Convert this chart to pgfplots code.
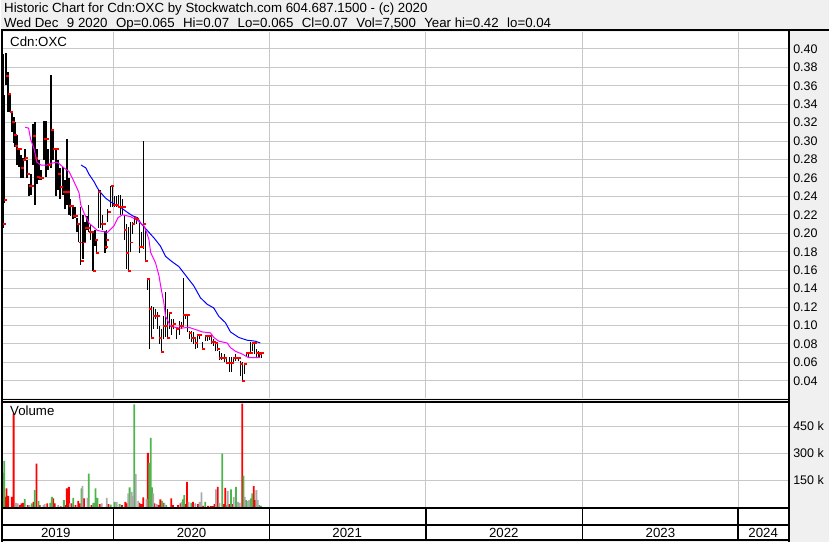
\documentclass[border=0pt]{standalone}
\usepackage{fontspec}
\setmainfont{Liberation Sans}
\usepackage{pgfplots}
\usepackage{pgfplotstable}
\pgfplotsset{compat=1.18}
\definecolor{bg}{RGB}{240,240,240}
\definecolor{gridc}{RGB}{200,200,200}
\definecolor{vgreen}{RGB}{76,182,76}
\definecolor{vgray}{RGB}{170,170,170}
\definecolor{mared}{RGB}{255,0,0}
\definecolor{mamag}{RGB}{255,0,255}

\pgfplotstableread{
x hi lo cl
2019.291 0.394 0.206 0.210
2019.297 0.350 0.233 0.236
2019.310 0.396 0.361 0.371
2019.323 0.375 0.332 0.351
2019.336 0.352 0.331 0.331
2019.348 0.332 0.310 0.321
2019.361 0.326 0.298 0.307
2019.367 0.321 0.294 0.295
2019.380 0.307 0.274 0.291
2019.393 0.291 0.272 0.291
2019.406 0.285 0.260 0.271
2019.419 0.282 0.260 0.280
2019.431 0.291 0.278 0.282
2019.444 0.280 0.260 0.264
2019.457 0.253 0.240 0.251
2019.470 0.264 0.242 0.251
2019.482 0.318 0.274 0.305
2019.495 0.321 0.231 0.282
2019.508 0.291 0.253 0.261
2019.521 0.280 0.258 0.260
2019.534 0.269 0.258 0.260
2019.553 0.322 0.280 0.302
2019.566 0.322 0.261 0.302
2019.578 0.291 0.269 0.274
2019.598 0.372 0.271 0.312
2019.610 0.312 0.280 0.291
2019.629 0.291 0.240 0.291
2019.642 0.280 0.247 0.264
2019.655 0.271 0.237 0.250
2019.674 0.272 0.242 0.245
2019.687 0.258 0.226 0.245
2019.700 0.302 0.231 0.245
2019.713 0.260 0.220 0.230
2019.725 0.237 0.219 0.230
2019.738 0.231 0.215 0.219
2019.751 0.228 0.217 0.219
2019.764 0.217 0.201 0.210
2019.776 0.210 0.190 0.190
2019.789 0.229 0.166 0.170
2019.802 0.220 0.172 0.190
2019.815 0.212 0.190 0.206
2019.828 0.219 0.204 0.206
2019.840 0.231 0.201 0.201
2019.853 0.210 0.193 0.201
2019.866 0.201 0.159 0.159
2019.879 0.204 0.186 0.193
2019.891 0.193 0.179 0.179
2019.904 0.247 0.206 0.245
2019.917 0.247 0.206 0.210
2019.930 0.220 0.204 0.210
2019.943 0.202 0.179 0.185
2019.955 0.204 0.183 0.193
2019.962 0.226 0.212 0.223
2019.981 0.251 0.228 0.251
2019.994 0.251 0.229 0.231
2020.006 0.240 0.229 0.231
2020.019 0.240 0.229 0.231
2020.032 0.242 0.228 0.228
2020.045 0.242 0.220 0.229
2020.058 0.237 0.220 0.229
2020.070 0.220 0.193 0.204
2020.083 0.210 0.161 0.179
2020.096 0.207 0.159 0.159
2020.109 0.212 0.180 0.190
2020.121 0.212 0.199 0.210
2020.134 0.217 0.210 0.217
2020.147 0.217 0.210 0.215
2020.166 0.212 0.179 0.185
2020.179 0.201 0.185 0.185
2020.192 0.300 0.183 0.210
2020.205 0.206 0.170 0.170
2020.217 0.150 0.139 0.150
2020.230 0.150 0.074 0.118
2020.243 0.121 0.085 0.086
2020.256 0.120 0.096 0.110
2020.268 0.118 0.107 0.110
2020.281 0.115 0.096 0.110
2020.294 0.099 0.080 0.086
2020.307 0.096 0.071 0.071
2020.320 0.110 0.085 0.099
2020.332 0.136 0.088 0.099
2020.345 0.118 0.085 0.086
2020.358 0.114 0.096 0.114
2020.371 0.107 0.090 0.099
2020.383 0.107 0.096 0.102
2020.403 0.098 0.085 0.096
2020.422 0.105 0.090 0.099
2020.435 0.104 0.096 0.099
2020.447 0.152 0.099 0.111
2020.460 0.111 0.107 0.111
2020.473 0.111 0.093 0.111
2020.486 0.094 0.085 0.092
2020.498 0.094 0.082 0.086
2020.511 0.093 0.080 0.086
2020.524 0.088 0.074 0.081
2020.537 0.090 0.076 0.090
2020.550 0.090 0.085 0.090
2020.569 0.082 0.074 0.074
2020.588 0.090 0.083 0.089
2020.601 0.090 0.083 0.089
2020.614 0.089 0.084 0.089
2020.626 0.089 0.080 0.082
2020.639 0.085 0.078 0.082
2020.652 0.082 0.072 0.081
2020.665 0.082 0.072 0.075
2020.677 0.072 0.063 0.065
2020.690 0.070 0.063 0.065
2020.709 0.069 0.060 0.065
2020.722 0.066 0.058 0.059
2020.741 0.066 0.050 0.059
2020.754 0.066 0.050 0.059
2020.767 0.066 0.058 0.065
2020.780 0.069 0.061 0.065
2020.799 0.066 0.061 0.065
2020.812 0.061 0.045 0.058
2020.825 0.060 0.040 0.040
2020.837 0.058 0.047 0.058
2020.850 0.070 0.066 0.070
2020.863 0.070 0.066 0.070
2020.876 0.082 0.069 0.070
2020.888 0.082 0.072 0.081
2020.901 0.082 0.069 0.081
2020.914 0.074 0.066 0.070
2020.927 0.072 0.065 0.070
2020.933 0.071 0.065 0.069
2020.946 0.070 0.065 0.070
}\pricetab

\pgfplotstableread{
x v
2019.433 0.315
2019.455 0.314
2019.468 0.302
2019.491 0.291
2019.508 0.277
2019.534 0.274
2019.572 0.274
2019.598 0.276
2019.640 0.277
2019.681 0.271
2019.714 0.267
2019.743 0.257
2019.778 0.244
2019.789 0.231
2019.810 0.222
2019.842 0.211
2019.896 0.203
2019.960 0.201
2020.002 0.208
2020.028 0.217
2020.056 0.220
2020.109 0.218
2020.152 0.214
2020.194 0.208
2020.211 0.201
2020.226 0.193
2020.237 0.179
2020.268 0.168
2020.290 0.154
2020.305 0.139
2020.321 0.125
2020.332 0.110
2020.364 0.099
2020.428 0.097
2020.481 0.098
2020.535 0.095
2020.567 0.093
2020.620 0.092
2020.641 0.087
2020.673 0.083
2020.727 0.081
2020.748 0.076
2020.780 0.072
2020.823 0.069
2020.865 0.065
2020.907 0.065
2020.939 0.065
}\matab

\pgfplotstableread{
x v
2019.791 0.274
2019.821 0.271
2019.842 0.264
2019.874 0.256
2019.896 0.249
2019.917 0.244
2019.949 0.238
2019.981 0.234
2020.013 0.231
2020.045 0.228
2020.077 0.224
2020.120 0.219
2020.152 0.217
2020.173 0.211
2020.226 0.201
2020.258 0.195
2020.300 0.186
2020.332 0.175
2020.375 0.169
2020.417 0.164
2020.449 0.157
2020.481 0.150
2020.513 0.143
2020.556 0.130
2020.599 0.123
2020.641 0.119
2020.673 0.110
2020.716 0.103
2020.748 0.093
2020.801 0.087
2020.855 0.084
2020.907 0.083
2020.939 0.081
}\mbtab

\pgfplotstableread{
x v
2019.307 58.3
2019.314 104.6
2019.325 63.9
2019.348 58.3
2019.359 521.3
2019.399 12
2019.410 21.3
2019.419 25
2019.449 12
2019.487 30.5
2019.506 243.5
2019.527 12
2019.575 21.3
2019.613 49
2019.623 21.3
2019.661 5
2019.691 12
2019.700 104.6
2019.713 113.9
2019.730 21.3
2019.755 12
2019.773 36.1
2019.783 21.3
2019.810 49
2019.858 12
2019.911 17.6
2019.966 17.6
2020.053 12
2020.075 30.5
2020.083 21.3
2020.166 25
2020.179 17.6
2020.189 54.6
2020.219 302.8
2020.262 21.3
2020.286 12
2020.299 43.5
2020.318 25
2020.369 49
2020.380 12
2020.412 12
2020.428 21.3
2020.460 17.6
2020.469 141.6
2020.508 30.5
2020.540 17.6
2020.572 8.3
2020.604 8.3
2020.620 6.5
2020.633 6.5
2020.646 17.6
2020.666 113.9
2020.705 17.6
2020.714 108.3
2020.739 17.6
2020.760 17.6
2020.823 576.9
2020.897 117.6
2020.906 39.8
}\volred

\pgfplotstableread{
x v
2019.291 191.6
2019.299 258.3
2019.431 45.3
2019.476 21.3
2019.495 95.3
2019.518 36.1
2019.594 25
2019.604 58.3
2019.681 39.8
2019.741 52.8
2019.794 104.6
2019.840 187.9
2019.870 25
2019.883 104.6
2019.896 52.8
2019.981 15
2020.006 30.5
2020.038 17.6
2020.102 110.2
2020.132 573.2
2020.228 247.2
2020.237 386.1
2020.245 110.2
2020.309 36.1
2020.337 12
2020.444 43.5
2020.452 67
2020.497 25
2020.586 30.5
2020.695 299.1
2020.722 12
2020.752 99
2020.784 113.9
2020.831 176.8
2020.847 39.8
2020.880 49
2020.888 76.8
2020.933 12
2020.943 7.5
}\volgreen

\pgfplotstableread{
x v
2019.285 650
2019.374 25
2019.385 21.3
2019.461 12
2019.550 12
2019.559 17.6
2019.645 12
2019.721 21.3
2019.800 119.4
2019.832 52.8
2019.923 21.3
2019.955 52.8
2020.019 30.5
2020.093 76.8
2020.115 86.1
2020.123 62
2020.141 184.2
2020.157 36.1
2020.211 45.3
2020.254 76.8
2020.275 17.6
2020.326 25
2020.435 30.5
2020.479 30.5
2020.522 21.3
2020.550 30.5
2020.562 82.4
2020.656 99
2020.677 25
2020.730 91.6
2020.769 58.3
2020.796 30.5
2020.807 25
2020.840 58.3
2020.860 36.1
2020.869 39.8
2020.914 95.3
2020.922 39.8
}\volgray

\pgfplotsset{swpanel/.style={
  scale only axis, anchor=south west, width=787bp,
  xmin=2019.291, xmax=2024.320,
  axis line style={draw=none},
  xtick={2020,2021,2022,2023,2024}, xticklabels={},
  grid=major, grid style={gridc, line width=1bp},
  major tick length=0pt,
  yticklabel pos=right,
  yticklabel style={anchor=west, inner sep=0pt, xshift=5bp, font=\fontsize{12.5bp}{14bp}\selectfont},
  axis background/.style={fill=white},
  clip=true}}

\newcommand{\dsp}{\hspace{8.5bp}}

\begin{document}
\begin{tikzpicture}
\fill[bg] (0,0) rectangle (830bp,543bp);
\fill[white] (2bp,2bp) rectangle (789bp,34bp);

\begin{axis}[swpanel, at={(2bp,144bp)}, height=367bp,
  ymin=0.0213, ymax=0.4184,
  ytick={0.04,0.06,0.08,0.10,0.12,0.14,0.16,0.18,0.20,0.22,0.24,0.26,0.28,0.30,0.32,0.34,0.36,0.38,0.40},
  yticklabels={0.04,0.06,0.08,0.10,0.12,0.14,0.16,0.18,0.20,0.22,0.24,0.26,0.28,0.30,0.32,0.34,0.36,0.38,0.40}]
\addplot[draw=none, mark=none, forget plot,
  error bars/.cd, y dir=plus, y explicit, error mark=none,
  error bar style={draw=black, solid, line width=1.5bp}]
  table[x=x, y=lo, y error plus expr=\thisrow{hi}-\thisrow{lo}] {\pricetab};
\addplot[draw=none, mark=-, mark size=1.5bp, mark options={draw=mared, solid, line width=2bp, xshift=1.3bp}]
  table[x=x, y=cl] {\pricetab};
\addplot[blue, line width=1bp, mark=none] table[x=x, y=v] {\mbtab};
\addplot[mamag, line width=1bp, mark=none] table[x=x, y=v] {\matab};
\end{axis}

\begin{axis}[swpanel, at={(2bp,34bp)}, height=105bp,
  ymin=-2.8, ymax=580.6,
  ytick={150,300,450}, yticklabels={150 k,300 k,450 k}]
\addplot[ybar, bar width=1.8bp, bar shift=0pt, fill=mared, draw=none] table[x=x, y=v] {\volred};
\addplot[ybar, bar width=1.8bp, bar shift=0pt, fill=vgreen, draw=none] table[x=x, y=v] {\volgreen};
\addplot[ybar, bar width=1.8bp, bar shift=0pt, fill=vgray, draw=none] table[x=x, y=v] {\volgray};
\end{axis}

% frame
\draw[black, line width=2bp] (0,512.5bp) -- (830bp,512.5bp);
\draw[black, line width=2bp] (1bp,0) -- (1bp,513.5bp);
\draw[black, line width=2bp] (789.5bp,0) -- (789.5bp,513.5bp);
\draw[black, line width=1bp] (0,142.5bp) -- (789.5bp,142.5bp);
\draw[black, line width=1.5bp] (0,140bp) -- (789.5bp,140bp);
\draw[black, line width=2bp] (0,33.5bp) -- (789.5bp,33.5bp);
\draw[black, line width=2bp] (0,16.5bp) -- (789.5bp,16.5bp);
\draw[black, line width=2bp] (0,1.5bp) -- (789.5bp,1.5bp);
\foreach \xx in {113,269,426,583,739} {\draw[black, line width=1.5bp] (\xx bp,1.5bp) -- (\xx bp,33.5bp);}

% texts
\begin{scope}[every node/.style={inner sep=0pt, font=\fontsize{13.3bp}{15bp}\selectfont}]
\node[anchor=base west] at (3bp,530bp) {Historic Chart for Cdn:OXC by Stockwatch.com 604.687.1500 - (c) 2020};
\node[anchor=base west] at (3bp,515.5bp) {Wed Dec\dsp 9 2020\dsp Op=0.065\dsp Hi=0.07\dsp Lo=0.065\dsp Cl=0.07\dsp Vol=7,500\dsp Year hi=0.42\dsp lo=0.04};
\node[anchor=base west] at (9bp,496bp) {Cdn:OXC};
\node[anchor=base west] at (9bp,126bp) {Volume};
\node[anchor=base] at (55bp,4bp) {2019};
\node[anchor=base] at (191bp,4bp) {2020};
\node[anchor=base] at (347bp,4bp) {2021};
\node[anchor=base] at (504bp,4bp) {2022};
\node[anchor=base] at (661bp,4bp) {2023};
\node[anchor=base] at (764bp,4bp) {2024};
\end{scope}
\end{tikzpicture}
\end{document}
